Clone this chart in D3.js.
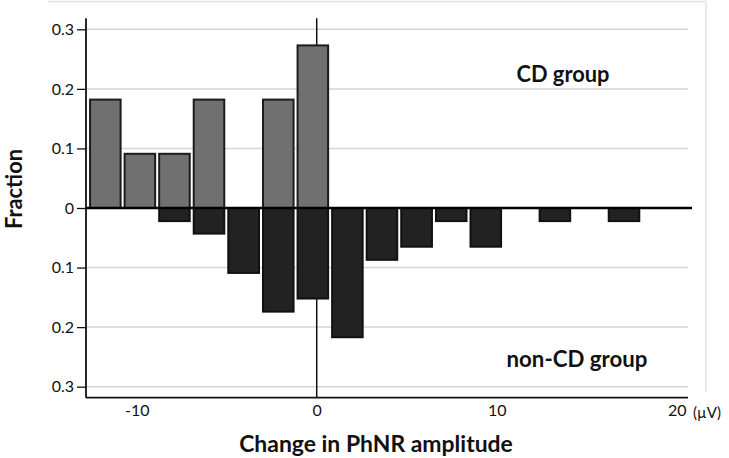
<!DOCTYPE html>
<html>
<head>
<meta charset="utf-8">
<script src="https://cdn.jsdelivr.net/npm/d3@7"></script>
<style>
  html, body { margin: 0; padding: 0; background: #fff; }
  svg { display: block; }
  text { font-family: Lato, "Open Sans", sans-serif; fill: #111; }
</style>
</head>
<body>
<svg id="chart" width="729" height="458"></svg>
<script>
// ---- data ----
const binLeft  = [-12.65, -10.73, -8.81, -6.89, -4.97, -3.04, -1.12, 0.80, 2.72, 4.64, 6.57, 8.49, 10.41, 12.33, 14.25, 16.17];
const binRight = [-10.73, -8.81, -6.89, -4.97, -3.04, -1.12, 0.80, 2.72, 4.64, 6.57, 8.49, 10.41, 12.33, 14.25, 16.17, 18.09];
const cdFraction    = [0.182, 0.091, 0.091, 0.182, 0, 0.182, 0.273, 0, 0, 0, 0, 0, 0, 0, 0, 0];
const nonCdFraction = [0, 0, 0.022, 0.043, 0.109, 0.174, 0.152, 0.217, 0.087, 0.065, 0.022, 0.065, 0, 0.022, 0, 0.022];
const yTickValues = [0.3, 0.2, 0.1, 0, -0.1, -0.2, -0.3];
const gridValues  = [0.3, 0.2, 0.1, -0.1, -0.2, -0.3];
const xTickValues = [-10, 0, 10, 20];
const xTitle = "Change in PhNR amplitude";
const yTitle = "Fraction";
const unitLabel = "(µV)";
const cdLabel = "CD group";
const nonCdLabel = "non-CD group";

// ---- scales ----
const svg = d3.select("#chart");
const x = d3.scaleLinear().domain([-12.82, 20.63]).range([86, 688]);
const y = d3.scaleLinear().domain([-0.3185, 0.3185]).range([397.7, 18.3]);

// frame
svg.append("path")
  .attr("d", "M48,1.5 H706 V392")
  .attr("fill", "none").attr("stroke", "#e2e2e2").attr("stroke-width", 1.5);

// gridlines
svg.append("g").selectAll("line").data(gridValues).join("line")
  .attr("x1", x.range()[0]).attr("x2", x.range()[1])
  .attr("y1", d => y(d)).attr("y2", d => y(d))
  .attr("stroke", "#d4d4d4").attr("stroke-width", 1.5);

// vertical reference line at 0 (behind bars)
svg.append("line")
  .attr("x1", x(0)).attr("x2", x(0))
  .attr("y1", y.range()[1]).attr("y2", y.range()[0])
  .attr("stroke", "#111").attr("stroke-width", 1.5);

const bins = binLeft.map((l, i) => ({ l, r: binRight[i], cd: cdFraction[i], non: nonCdFraction[i] }));

// CD bars (up)
svg.append("g").selectAll("rect").data(bins.filter(d => d.cd > 0)).join("rect")
  .attr("x", d => x(d.l) + 1)
  .attr("width", d => x(d.r) - x(d.l) - 4)
  .attr("y", d => y(d.cd))
  .attr("height", d => y(0) - y(d.cd))
  .attr("fill", "#707070").attr("stroke", "#1c1c1c").attr("stroke-width", 2);

// non-CD bars (down)
svg.append("g").selectAll("rect").data(bins.filter(d => d.non > 0)).join("rect")
  .attr("x", d => x(d.l) + 1)
  .attr("width", d => x(d.r) - x(d.l) - 4)
  .attr("y", y(0))
  .attr("height", d => y(-d.non) - y(0))
  .attr("fill", "#222").attr("stroke", "#111").attr("stroke-width", 2);

// zero line
svg.append("line")
  .attr("x1", x.range()[0]).attr("x2", 692)
  .attr("y1", y(0)).attr("y2", y(0))
  .attr("stroke", "#000").attr("stroke-width", 2.6);

// y axis
const yAxis = d3.axisLeft(y).tickValues(yTickValues).tickSize(9).tickPadding(3)
  .tickFormat(d => d === 0 ? "0" : d3.format(".1f")(Math.abs(d)));
const gy = svg.append("g").attr("transform", `translate(${x.range()[0]},0)`).call(yAxis);
gy.select(".domain").attr("stroke", "#111").attr("stroke-width", 1.8)
  .attr("d", `M0,${y.range()[1]}V${y.range()[0]}`);
gy.selectAll(".tick line").attr("stroke", "#111").attr("stroke-width", 1.3);
gy.selectAll(".tick text").attr("font-size", 16).attr("font-family", "Lato, sans-serif").attr("fill", "#111");

// x axis
const xAxis = d3.axisBottom(x).tickValues(xTickValues).tickSize(0).tickPadding(7)
  .tickFormat(d => String(d));
const gx = svg.append("g").attr("transform", `translate(0,${y.range()[0]})`).call(xAxis);
gx.select(".domain").attr("stroke", "#111").attr("stroke-width", 1.8)
  .attr("d", `M${x.range()[0]},0H${x.range()[1]}`);
gx.selectAll(".tick text").attr("font-size", 16).attr("font-family", "Lato, sans-serif").attr("fill", "#111");

svg.append("text").attr("x", 693).attr("y", 418).attr("font-size", 15).text(unitLabel);

// titles fitted to measured widths
function fitText(sel, target) {
  const w = sel.node().getComputedTextLength();
  const fs = parseFloat(sel.attr("font-size"));
  sel.attr("font-size", fs * target / w);
}
const tx = svg.append("text").attr("x", 376).attr("y", 452).attr("text-anchor", "middle")
  .attr("font-weight", 700).attr("font-size", 20).text(xTitle);
fitText(tx, 274);
const ty = svg.append("text").attr("transform", "translate(22,189) rotate(-90)").attr("text-anchor", "middle")
  .attr("font-weight", 700).attr("font-size", 20).text(yTitle);
fitText(ty, 80);
const tcd = svg.append("text").attr("x", 563).attr("y", 82).attr("text-anchor", "middle")
  .attr("font-weight", 700).attr("font-size", 18).text(cdLabel);
fitText(tcd, 93);
const tn = svg.append("text").attr("x", 577).attr("y", 367).attr("text-anchor", "middle")
  .attr("font-weight", 700).attr("font-size", 18).text(nonCdLabel);
fitText(tn, 141);
</script>
</body>
</html>
